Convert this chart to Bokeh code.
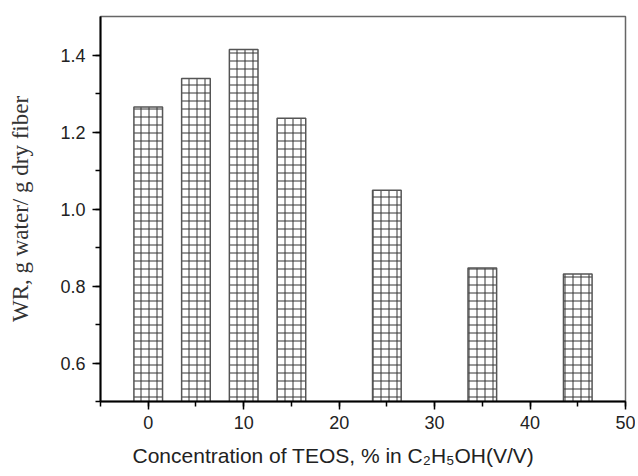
from bokeh.plotting import figure
from bokeh.models import SingleIntervalTicker, Range1d, PrintfTickFormatter, Title
from bokeh.embed import file_html
from bokeh.resources import INLINE

# Data
conc = [0, 5, 10, 15, 25, 35, 45]
wr = [1.265, 1.339, 1.414, 1.236, 1.049, 0.847, 0.831]
x_label = "Concentration of TEOS, % in C\u2082H\u2085OH(V/V)"
y_label = "WR, g water/ g dry fiber"

p = figure(width=635, height=476, output_backend="svg", toolbar_location=None,
           x_range=Range1d(-5, 50), y_range=Range1d(0.5, 1.5),
           min_border_left=100, min_border_top=16, min_border_right=10, min_border_bottom=74)

p.vbar(x=conc, top=wr, bottom=0, width=3, fill_color="white",
       line_color="#555555", line_width=1.5,
       hatch_pattern="+", hatch_color="#333333", hatch_scale=8, hatch_weight=1)

p.grid.visible = False
p.outline_line_color = "#666666"
p.outline_line_width = 1.5
p.background_fill_color = "white"
p.border_fill_color = "white"

p.xaxis.ticker = SingleIntervalTicker(interval=10, num_minor_ticks=2)
p.yaxis.ticker = SingleIntervalTicker(interval=0.2, num_minor_ticks=2)
p.yaxis.formatter = PrintfTickFormatter(format="%.1f")

for ax in (p.xaxis, p.yaxis):
    ax.axis_line_color = "black"
    ax.axis_line_width = 2
    ax.major_tick_line_color = "black"
    ax.major_tick_line_width = 1.5
    ax.minor_tick_line_color = "black"
    ax.minor_tick_line_width = 1.5
    ax.major_tick_out = 8
    ax.major_tick_in = 0
    ax.minor_tick_out = 5
    ax.minor_tick_in = 0
    ax.major_label_text_font = "Liberation Sans"
    ax.major_label_text_font_size = "18px"
    ax.major_label_text_color = "#222222"

p.xaxis.major_label_standoff = 6
p.yaxis.major_label_standoff = 7

xt = Title(text=x_label, align="left", offset=32, standoff=20,
           text_font="Liberation Sans", text_font_size="21px",
           text_font_style="normal", text_color="#222222")
p.add_layout(xt, "below")

p.yaxis.axis_label = y_label
p.yaxis.axis_label_text_font = "Liberation Serif"
p.yaxis.axis_label_text_font_size = "23px"
p.yaxis.axis_label_text_font_style = "normal"
p.yaxis.axis_label_text_color = "#333333"
p.yaxis.axis_label_standoff = 24

open("out.html", "w").write(file_html(p, INLINE))
